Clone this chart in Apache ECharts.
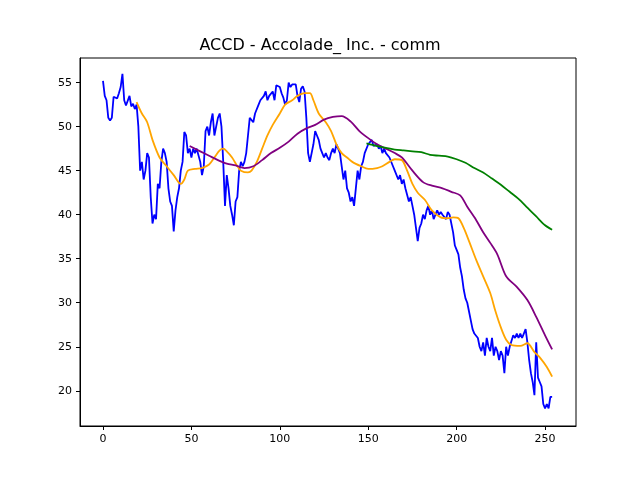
<!DOCTYPE html><html><head><meta charset="utf-8"><script src="https://cdn.jsdelivr.net/npm/echarts@6/dist/echarts.min.js"></script></head><body style="margin:0"><div id="c" style="width:640px;height:480px"></div><script>
const price=[55.2,53.5,53,51,50.7,51,53.4,53.6,53.2,53.8,54.5,56,53,52.4,52.6,53.5,52.3,52.6,52,52.5,50,45,46,44,45,47,46.5,42,39,40,39.5,43.5,43,46,47.5,47,46,43,41.5,41,38.1,40.5,42,43,45,46,49.4,49,47,47.5,46.5,47.5,47,47.5,47.5,46,44.5,45.5,49.5,50,49,50.5,51.5,49,50,51,51.5,50,46,41,44.5,43,41,40,38.8,41.5,42,45,46,45.5,46,47,49,51,51.2,50.5,51.5,51.5,52.5,53,52.8,53.5,54,53,53.5,53.7,54,53,54.7,54.5,54.5,53.8,53.3,52.5,53,55,54.5,54.8,54.6,54.8,53.5,52.8,54.3,54.6,54,51,47,46,46,48,49.5,49,48.5,47.5,47,46.5,47,46.5,46.2,47,47.5,47,48,47.5,47,45.5,44,45,43,42.5,41.5,42,41,43,45,44,45.5,46,47,47.2,48,47.8,48.5,47.8,48,48,47.5,47.8,47,47.5,47,47,46.5,46.5,45.5,45,44.8,44,44.5,43.5,44,43,43,41.5,42,41,40,38.5,37,38.5,39,40,39.5,40.5,41,40,40.5,39.5,40,40.5,40,40.3,40,40,39.5,40.3,40,39.8,38,36.5,36,35.5,34,33,31.5,30.5,30,29,28,27,26.5,26.5,26,25,24.5,25.5,24,26,25,24.5,26,24,25,24.5,23.5,24.5,24,22,25,24,25,25,26.3,26,26.5,26,26.5,26,26.5,27,25.5,23.5,22,21,19.5,25.5,21.5,21,20.5,18.5,18,18.5,18,19.3,19.3];
const ma20=[[19,52.8],[22,51.5],[25,50.5],[28,48.5],[32,46.5],[36,45.5],[40,44.5],[44,43.5],[46,44],[48,45],[52,45.2],[56,45.3],[60,45.7],[63,46.5],[66,47.3],[68,47.5],[70,47.2],[73,46.5],[76,45.5],[78,45],[82,44.8],[84,45],[87,46],[90,47.5],[93,49],[96,50.2],[100,51.5],[103,52.5],[107,53],[110,53.5],[114,53.8],[117,53.8],[119,53],[122,51.5],[126,50.5],[129,49.5],[132,48],[135,47],[138,46.5],[141,46],[146,45.5],[150,45.2],[155,45.3],[158,45.5],[162,46],[165,46.3],[169,46.2],[172,45],[175,43.5],[178,42.5],[182,41.7],[186,40.5],[191,39.7],[195,39.6],[198,39.7],[201,39.6],[204,38.5],[207,37],[211,34.9],[215,33],[219,31.1],[222,29],[225,27.2],[228,25.8],[231,25.2],[236,25.1],[240,25.4],[244,24.4],[247,23.8],[251,22.7],[254,21.6]];
const ma50=[[49,47.8],[55,47.2],[60,46.7],[65,46.2],[70,45.8],[75,45.6],[80,45.3],[85,45.5],[90,46.2],[95,47],[100,47.6],[105,48.3],[110,49.2],[115,49.8],[120,50.2],[125,50.8],[130,51.1],[135,51.2],[140,50.6],[145,49.5],[150,48.7],[155,48],[160,47.5],[165,47],[169,46.5],[175,45],[181,43.7],[186,43.3],[192,43],[197,42.6],[202,42.2],[206,40.9],[211,39.4],[215,38],[219,36.8],[223,35.5],[228,33],[234,31.8],[240,30.3],[245,28.4],[250,26.3],[254,24.7]];
const ma150=[[149,48.1],[155,47.8],[160,47.6],[165,47.4],[170,47.3],[175,47.2],[180,47.1],[185,46.8],[190,46.7],[195,46.6],[200,46.3],[205,45.9],[210,45.3],[215,44.8],[220,44.1],[225,43.4],[230,42.6],[235,41.8],[240,40.8],[245,39.8],[250,38.8],[254,38.3]];
const xTicks=[0,50,100,150,200,250];
const yTicks=[20,25,30,35,40,45,50,55];
const ch=echarts.init(document.getElementById('c'));
const ln=(d,c,s)=>({type:'line',data:d,showSymbol:false,smooth:s,lineStyle:{color:c,width:1.8},animation:false});
const ax={axisLine:{onZero:false,lineStyle:{color:'#000'}},axisTick:{lineStyle:{color:'#000'},length:4},axisLabel:{color:'#000',fontSize:11,fontFamily:'DejaVu Sans'},splitLine:{show:false}};
ch.setOption({
title:{text:'ACCD - Accolade_ Inc. - comm',left:'center',top:33,textStyle:{fontWeight:'normal',fontSize:16,fontFamily:'DejaVu Sans',color:'#000'}},
grid:{left:80,right:64,top:58,bottom:54,show:true,borderColor:'#000',borderWidth:1},
xAxis:Object.assign({type:'value',min:-13,max:267.5},ax,{axisTick:{customValues:xTicks,lineStyle:{color:'#000'},length:4},axisLabel:Object.assign({},ax.axisLabel,{customValues:xTicks})}),
yAxis:Object.assign({type:'value',min:16,max:57.8},ax,{axisTick:{customValues:yTicks,lineStyle:{color:'#000'},length:4},axisLabel:Object.assign({},ax.axisLabel,{customValues:yTicks})}),
series:[ln(price.map((v,i)=>[i,v]),'#0000ff',false),ln(ma20,'orange',0.3),ln(ma50,'purple',0.3),ln(ma150,'green',0.3)]
});
</script></body></html>
